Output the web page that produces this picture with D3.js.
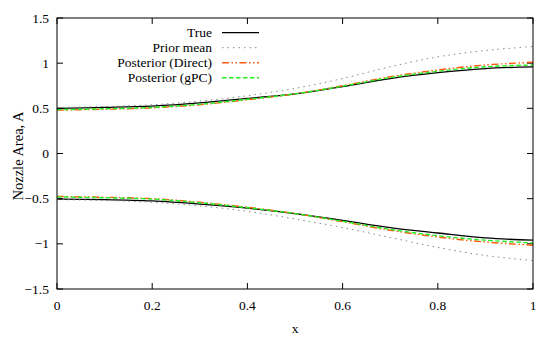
<!DOCTYPE html>
<html><head><meta charset="utf-8">
<script src="https://cdn.jsdelivr.net/npm/d3@7"></script>
<style>body{margin:0;background:#fff}svg{display:block}</style>
</head><body><svg id="c" width="554" height="339"></svg>
<script>
const xs = [0,0.1,0.2,0.3,0.4,0.5,0.6,0.7,0.8,0.9,1.0];
const trueUpper   = [0.50,0.51,0.525,0.56,0.61,0.66,0.74,0.83,0.895,0.94,0.96];
const trueLower   = [-0.505,-0.51,-0.525,-0.56,-0.605,-0.665,-0.74,-0.82,-0.88,-0.935,-0.96];
const priorUpper  = [0.51,0.52,0.54,0.58,0.64,0.72,0.83,0.96,1.07,1.14,1.185];
const priorLower  = [-0.51,-0.52,-0.54,-0.58,-0.64,-0.725,-0.82,-0.93,-1.04,-1.13,-1.185];
const directUpper = [0.48,0.49,0.505,0.54,0.595,0.66,0.75,0.85,0.925,0.98,1.01];
const directLower = [-0.475,-0.485,-0.5,-0.54,-0.595,-0.665,-0.755,-0.85,-0.925,-0.98,-1.015];
const gpcUpper    = [0.485,0.495,0.51,0.545,0.60,0.66,0.745,0.84,0.91,0.96,0.98];
const gpcLower    = [-0.48,-0.49,-0.505,-0.545,-0.60,-0.665,-0.75,-0.84,-0.91,-0.96,-0.99];
const xTicks = [0,0.2,0.4,0.6,0.8,1];
const yTicks = [-1.5,-1,-0.5,0,0.5,1,1.5];
const legendLabels = ["True","Prior mean","Posterior (Direct)","Posterior (gPC)"];

const svg = d3.select("#c");
const L=57, R=533, T=18, B=289;
const x = d3.scaleLinear().domain([0,1]).range([L,R]);
const y = d3.scaleLinear().domain([-1.5,1.5]).range([B,T]);
const fs = 13.5;
function txt(size){ return svg.append("text").attr("font-family","Liberation Serif").attr("font-size",size||fs).attr("fill","#000"); }

const series = [
  {name:legendLabels[0], up:trueUpper, lo:trueLower, color:"#000", w:1.3, dash:null},
  {name:legendLabels[1], up:priorUpper, lo:priorLower, color:"#888", w:1, dash:"1.5,4"},
  {name:legendLabels[2], up:directUpper, lo:directLower, color:"#ff5a10", w:1.4, dash:"7,2.5,1.5,2.5,1.5,2.5"},
  {name:legendLabels[3], up:gpcUpper, lo:gpcLower, color:"#22ee22", w:1.4, dash:"4.5,2.5"}
];

const tl = 6;
const g = svg.append("g").attr("stroke","#000").attr("stroke-width",1);
xTicks.forEach(v=>{
  g.append("line").attr("x1",x(v)).attr("x2",x(v)).attr("y1",B).attr("y2",B-tl);
  g.append("line").attr("x1",x(v)).attr("x2",x(v)).attr("y1",T).attr("y2",T+tl);
});
yTicks.forEach(v=>{
  g.append("line").attr("x1",L).attr("x2",L+tl).attr("y1",y(v)).attr("y2",y(v));
  g.append("line").attr("x1",R).attr("x2",R-tl).attr("y1",y(v)).attr("y2",y(v));
});
xTicks.forEach(v=>{
  txt().attr("x",x(v)).attr("y",B+21).attr("text-anchor","middle").text(d3.format("")(v));
});
yTicks.forEach(v=>{
  txt().attr("x",L-8).attr("y",y(v)+4.5).attr("text-anchor","end").text(d3.format("")(v));
});
txt().attr("x",(L+R)/2).attr("y",333).attr("text-anchor","middle").text("x");
txt(14.5).attr("transform",`translate(23,156) rotate(-90)`).attr("text-anchor","middle").text("Nozzle Area, A");

const line = d3.line().x((d,i)=>x(xs[i])).y(d=>y(d)).curve(d3.curveCatmullRom.alpha(0.5));
series.forEach(s=>{
  [s.up,s.lo].forEach(arr=>{
    svg.append("path").attr("d",line(arr)).attr("fill","none").attr("stroke",s.color)
      .attr("stroke-width",s.w).attr("stroke-dasharray",s.dash);
  });
});

series.forEach((s,i)=>{
  const ly = 32.7 + i*15;
  txt().attr("x",212).attr("y",ly+4.5).attr("text-anchor","end").text(s.name);
  svg.append("line").attr("x1",222).attr("x2",259).attr("y1",ly).attr("y2",ly)
    .attr("stroke",s.color).attr("stroke-width",s.w).attr("stroke-dasharray",s.dash);
});

svg.append("rect").attr("x",L).attr("y",T).attr("width",R-L).attr("height",B-T)
  .attr("fill","none").attr("stroke","#000").attr("stroke-width",1);
</script></body></html>
